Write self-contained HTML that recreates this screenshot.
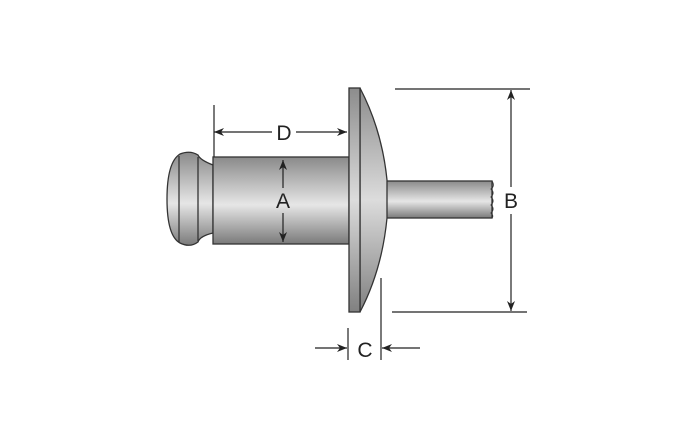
<!DOCTYPE html>
<html><head><style>html,body{margin:0;padding:0;background:#fff}svg{display:block}</style></head><body>
<svg width="700" height="426" viewBox="0 0 700 426" xmlns="http://www.w3.org/2000/svg">
<defs>
<linearGradient id="g" x1="0" y1="0" x2="0" y2="1">
<stop offset="0" stop-color="#8a8a8a"/><stop offset="0.55" stop-color="#e6e6e6"/><stop offset="1" stop-color="#7a7a7a"/>
</linearGradient>
<linearGradient id="f" x1="0" y1="0" x2="0" y2="1">
<stop offset="0" stop-color="#8c8c8c"/><stop offset="0.5" stop-color="#dcdcdc"/><stop offset="1" stop-color="#808080"/>
</linearGradient>
<marker id="ar" viewBox="0 0 10 10" refX="10" refY="5" markerWidth="10" markerHeight="10" orient="auto-start-reverse" markerUnits="userSpaceOnUse"><path d="M0,1 L10,5 L0,9 L3,5z" fill="#222"/></marker>
</defs>
<g stroke="#333" stroke-width="1.3">
<!-- ball head -->
<path d="M213,165 Q200,160 198,155 Q190,150 180,154 Q167,162 167,199 Q167,236 180,243 Q190,248 198,242 Q200,236 213,233 Z" fill="url(#g)"/>
<line x1="179" y1="156" x2="179" y2="242"/>
<line x1="198" y1="157" x2="198" y2="241"/>
<!-- body -->
<rect x="213" y="157" width="136" height="87" fill="url(#g)"/>
<!-- stem -->
<rect x="385" y="181" width="107" height="37" fill="url(#g)"/>
<!-- dome -->
<path d="M360,88 Q382,130 387,180 L387,218 Q382,270 360,312 Z" fill="url(#f)"/>
<!-- flange -->
<rect x="349" y="88" width="11" height="224" fill="url(#f)"/>
</g>
<path d="M492,181 q3,5 -1,8 q4,4 0,8 q4,4 0,8 q4,4 0,8 q3,3 1,5" fill="none" stroke="#333" stroke-width="1"/>
<g stroke="#222" stroke-width="1.2" fill="none">
<line x1="214" y1="105" x2="214" y2="157"/>
<line x1="214" y1="132" x2="272" y2="132" marker-start="url(#ar)"/>
<line x1="296" y1="132" x2="347" y2="132" marker-end="url(#ar)"/>
<line x1="283" y1="160" x2="283" y2="188" marker-start="url(#ar)"/>
<line x1="283" y1="213" x2="283" y2="242" marker-end="url(#ar)"/>
<line x1="395" y1="89" x2="530" y2="89"/>
<line x1="392" y1="312" x2="527" y2="312"/>
<line x1="511" y1="90" x2="511" y2="187" marker-start="url(#ar)"/>
<line x1="511" y1="214" x2="511" y2="311" marker-end="url(#ar)"/>
<line x1="348" y1="328" x2="348" y2="360"/>
<line x1="381" y1="278" x2="381" y2="360"/>
<line x1="315" y1="348" x2="347" y2="348" marker-end="url(#ar)"/>
<line x1="420" y1="348" x2="382" y2="348" marker-end="url(#ar)"/>
</g>
<g font-family="Liberation Sans, sans-serif" font-size="21" fill="#222" text-anchor="middle">
<text x="284" y="140">D</text>
<text x="283" y="208">A</text>
<text x="511" y="208">B</text>
<text x="365" y="357">C</text>
</g>
</svg>
</body></html>
